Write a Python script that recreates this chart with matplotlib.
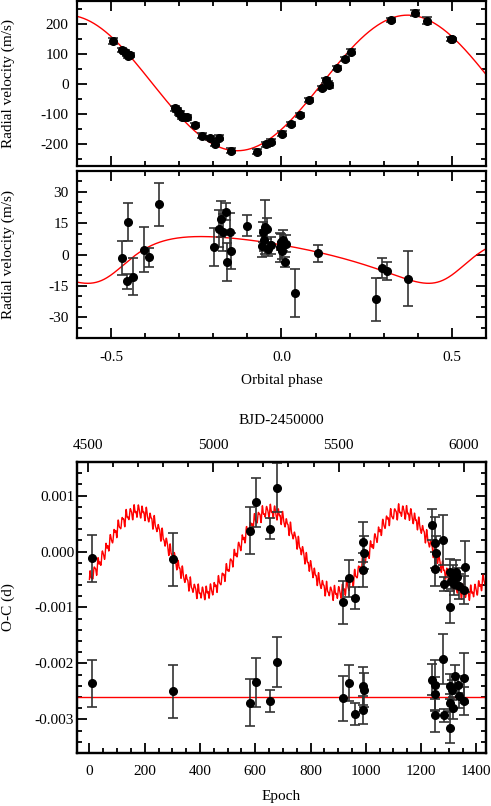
import numpy as np
import matplotlib

matplotlib.use("Agg")
import matplotlib.pyplot as plt
from matplotlib.ticker import MultipleLocator, FormatStrFormatter

plt.rcParams["font.family"] = ["Liberation Serif", "DejaVu Serif"]
plt.rcParams["axes.unicode_minus"] = False
plt.rcParams["font.size"] = 11

# ---- top panel: RV folded on orbital phase ----
rv_phase = [-0.494, -0.467, -0.460, -0.454, -0.450, -0.445, -0.312, -0.307, -0.302,
            -0.297, -0.292, -0.287, -0.278, -0.253, -0.234, -0.210, -0.195, -0.183,
            -0.147, -0.071, -0.045, -0.030, 0.002, 0.029, 0.055, 0.080, 0.120,
            0.130, 0.135, 0.140, 0.162, 0.185, 0.203, 0.321, 0.392, 0.428, 0.496, 0.499]
rv_value = [142, 113, 106, 98, 92, 94, -83, -89, -98, -100, -111, -113, -113, -139,
            -174, -181, -200, -180, -224, -227, -202, -194, -167, -136, -104, -56,
            -16, 11, 0, -6, 51, 82, 106, 211, 236, 209, 148, 147]
rv_err = [10, 7, 7, 7, 7, 7, 7, 7, 7, 7, 7, 7, 7, 7, 8, 7, 8, 9, 8, 9, 8, 8, 8, 7,
          7, 7, 7, 9, 9, 9, 7, 7, 8, 6, 10, 12, 6, 6]

# circular orbit of the top panel
rv_K, rv_gamma, rv_phase_max = 226.0, 2.0, 0.37

# ---- middle panel: second signal ----
rv2_phase = [-0.469, -0.453, -0.449, -0.437, -0.403, -0.388, -0.358, -0.199, -0.182,
             -0.178, -0.173, -0.162, -0.159, -0.151, -0.147, -0.102, -0.056, -0.053,
             -0.050, -0.047, -0.042, -0.039, -0.032, -0.003, 0.000, 0.002, 0.005,
             0.009, 0.012, 0.040, 0.106, 0.278, 0.295, 0.310, 0.370]
rv2_value = [-1.6, -12.9, 15.5, -10.6, 2.3, -1.3, 24.0, 3.7, 12.4, 17.1, 10.6, 20.5,
             -3.7, 10.8, 1.8, 13.7, 3.9, 10.8, 6.8, 13.2, 12.4, 2.7, 4.4, 3.5, 6.0,
             1.9, 6.8, -3.5, 5.2, -18.4, 0.6, -21.5, -6.5, -7.7, -11.5]
rv2_err = [8.0, 3.8, 9.0, 9.0, 10.7, 4.5, 10.5, 9.0, 9.0, 8.5, 9.0, 4.0, 9.0, 9.0,
           8.5, 5.0, 5.0, 5.0, 5.0, 13.0, 5.0, 3.5, 4.0, 7.0, 4.0, 4.0, 5.0, 2.5,
           4.0, 11.3, 4.0, 10.2, 4.7, 4.3, 13.0]

# eccentric orbit of the middle panel (K, e, omega [deg], periastron phase, gamma)
rv2_K, rv2_e, rv2_omega, rv2_tp, rv2_gamma = 11.2, 0.34, 230.0, 0.50, -0.14

# ---- bottom panel: O-C ----
oc_epoch = [9, 302, 581, 602, 654, 677, 917, 938, 960, 989, 990, 992,
            1239, 1250, 1254, 1250, 1280, 1282, 1304, 1308, 1314, 1318, 1326, 1330,
            1337, 1358, 1355, 1306]
oc_value = [-0.00012, -0.00014, 0.00037, 0.00088, 0.00041, 0.00114, -0.00091,
            -0.00048, -0.00083, 0.00017, -0.00033, -0.00002,
            0.00048, 0.00016, -0.00003, -0.00031, 0.00021, -0.00058, -0.00036,
            -0.00052, -0.00042, -0.00058, -0.00036, -0.00045, -0.00062, -0.00027,
            -0.00069, -0.00099]
oc_err = [0.00042, 0.00047, 0.00042, 0.00044, 0.00019, 0.00044, 0.00039, 0.00033,
          0.00020, 0.00036, 0.00030, 0.00030,
          0.00028, 0.00045, 0.00030, 0.00030, 0.00045, 0.00012, 0.00022, 0.00015,
          0.00018, 0.00020, 0.00020, 0.00015, 0.00022, 0.00045, 0.00025, 0.00028]

res_epoch = [9, 302, 581, 602, 654, 677, 917, 938, 960, 989, 990, 992,
             1240, 1250, 1252, 1250, 1278, 1283, 1304, 1306, 1306, 1312, 1316, 1324,
             1335, 1338, 1355, 1355]
res_value = [-0.00235, -0.00250, -0.00270, -0.00234, -0.00267, -0.00198, -0.00262,
             -0.00235, -0.00290, -0.00240, -0.00284, -0.00247,
             -0.00229, -0.00238, -0.00255, -0.00293, -0.00192, -0.00293, -0.00241,
             -0.00270, -0.00315, -0.00247, -0.00280, -0.00222, -0.00238, -0.00258,
             -0.00226, -0.00268]
res_err = [0.00042, 0.00047, 0.00042, 0.00044, 0.00019, 0.00045, 0.00040, 0.00033,
           0.00020, 0.00034, 0.00025, 0.00030,
           0.00028, 0.00045, 0.00030, 0.00030, 0.00045, 0.00012, 0.00022, 0.00015,
           0.00028, 0.00018, 0.00020, 0.00020, 0.00015, 0.00022, 0.00045, 0.00025]
res_level = -0.0026

# O-C model: long wave plus short wiggles
oc_amp, oc_period, oc_peak, oc_offset = 0.00073, 477.0, 175.0, -0.00001
oc_wiggle_amp = [0.00009, 0.00004, 0.00003]
oc_wiggle_period = [14.5, 7.25, 9.3]

# ephemeris linking epoch and BJD-2450000
bjd_t0, bjd_period = 4506.4, 1.1019


def kepler_rv(phase, K, e, omega_deg, tp, gamma):
    w = np.radians(omega_deg)
    M = 2 * np.pi * (np.asarray(phase) - tp)
    E = M.copy()
    for _ in range(40):
        E = E - (E - e * np.sin(E) - M) / (1 - e * np.cos(E))
    nu = 2 * np.arctan2(np.sqrt(1 + e) * np.sin(E / 2), np.sqrt(1 - e) * np.cos(E / 2))
    return K * (np.cos(nu + w) + e * np.cos(w)) + gamma


fig = plt.figure(figsize=(4.91, 8.06), dpi=100)
ax1 = fig.add_axes([0.1568, 0.794, 0.833, 0.2047])
ax2 = fig.add_axes([0.1568, 0.5806, 0.833, 0.2072])
ax3 = fig.add_axes([0.1568, 0.0658, 0.833, 0.361])


def style(ax, top=True):
    for s in ax.spines.values():
        s.set_linewidth(1.6)
    ax.tick_params(which="both", direction="in", top=top, right=True, width=1.3)
    ax.tick_params(which="major", length=7)
    ax.tick_params(which="minor", length=3.5)


ebkw = dict(fmt="o", color="black", ms=5.5, ecolor="#333333", elinewidth=1.2,
            capsize=3.5, capthick=1.2, zorder=3)

phase_grid = np.linspace(-0.6, 0.6, 600)

# top panel
ax1.plot(phase_grid, rv_gamma + rv_K * np.cos(2 * np.pi * (phase_grid - rv_phase_max)),
         color="red", lw=1)
ax1.errorbar(rv_phase, rv_value, yerr=rv_err, **ebkw)
ax1.set_xlim(-0.6, 0.6)
ax1.set_ylim(-275, 275)
ax1.xaxis.set_major_locator(MultipleLocator(0.5))
ax1.xaxis.set_minor_locator(MultipleLocator(0.1))
ax1.yaxis.set_major_locator(MultipleLocator(100))
ax1.yaxis.set_minor_locator(MultipleLocator(50))
ax1.set_xticklabels([])
ax1.tick_params(axis="y", pad=6)
ax1.set_ylabel("Radial velocity (m/s)", ha="center", va="center")
ax1.yaxis.set_label_coords(-0.169, 0.5)
style(ax1)

# middle panel
ax2.plot(phase_grid, kepler_rv(phase_grid, rv2_K, rv2_e, rv2_omega, rv2_tp, rv2_gamma),
         color="red", lw=1)
ax2.errorbar(rv2_phase, rv2_value, yerr=rv2_err, **ebkw)
ax2.set_xlim(-0.6, 0.6)
ax2.set_ylim(-40, 40)
ax2.xaxis.set_major_locator(MultipleLocator(0.5))
ax2.xaxis.set_minor_locator(MultipleLocator(0.1))
ax2.xaxis.set_major_formatter(FormatStrFormatter("%.1f"))
ax2.yaxis.set_major_locator(MultipleLocator(15))
ax2.yaxis.set_minor_locator(MultipleLocator(5))
ax2.tick_params(axis="y", pad=6)
ax2.tick_params(axis="x", pad=9)
ax2.set_ylabel("Radial velocity (m/s)", ha="center", va="center")
ax2.yaxis.set_label_coords(-0.169, 0.5)
ax2.set_xlabel("Orbital phase")
ax2.xaxis.set_label_coords(0.5, -0.2515)
ax2.xaxis.label.set_va("center")
style(ax2)

# bottom panel
ep_grid = np.arange(0, 1436, 1.0)
oc_model = oc_offset + oc_amp * np.cos(2 * np.pi * (ep_grid - oc_peak) / oc_period)
for a, p in zip(oc_wiggle_amp, oc_wiggle_period):
    oc_model = oc_model + a * np.sin(2 * np.pi * ep_grid / p)
ax3.plot(ep_grid, oc_model, color="red", lw=1)
ax3.axhline(res_level, color="red", lw=1)
ax3.errorbar(oc_epoch, oc_value, yerr=oc_err, **ebkw)
ax3.errorbar(res_epoch, res_value, yerr=res_err, **ebkw)
ax3.set_xlim(-45, 1435)
ax3.set_ylim(-0.0036, 0.0016)
ax3.xaxis.set_major_locator(MultipleLocator(200))
ax3.xaxis.set_minor_locator(MultipleLocator(50))
ax3.yaxis.set_major_locator(MultipleLocator(0.001))
ax3.yaxis.set_minor_locator(MultipleLocator(0.0002))
ax3.yaxis.set_major_formatter(FormatStrFormatter("%.3f"))
ax3.tick_params(axis="y", pad=2)
ax3.tick_params(axis="x", pad=9)
ax3.set_xlabel("Epoch")
ax3.xaxis.set_label_coords(0.5, -0.150)
ax3.xaxis.label.set_va("center")
ax3.set_ylabel("O-C (d)", ha="center", va="center")
ax3.yaxis.set_label_coords(-0.169, 0.5)
style(ax3, top=False)

axt = ax3.twiny()
lo, hi = ax3.get_xlim()
axt.set_xlim(bjd_t0 + bjd_period * lo, bjd_t0 + bjd_period * hi)
axt.xaxis.set_major_locator(MultipleLocator(500))
axt.xaxis.set_minor_locator(MultipleLocator(100))
axt.tick_params(which="both", direction="in", width=1.3, pad=7)
axt.tick_params(which="major", length=7)
axt.tick_params(which="minor", length=3.5)
axt.set_xlabel("BJD-2450000")
axt.xaxis.set_label_coords(0.5, 1.142)
axt.xaxis.label.set_va("center")
for s in axt.spines.values():
    s.set_linewidth(1.6)

fig.savefig("out.png", dpi=100, facecolor="white")
